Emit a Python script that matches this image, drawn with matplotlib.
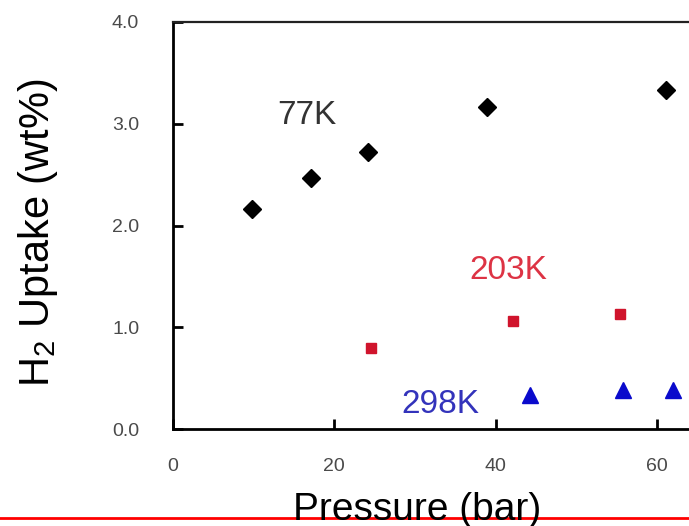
import matplotlib
matplotlib.use("Agg")
import matplotlib.pyplot as plt
from matplotlib.lines import Line2D

plt.rcParams['font.family'] = ['Liberation Sans', 'DejaVu Sans']
plt.rcParams['mathtext.default'] = 'regular'

# Data
p_77 = [9.8, 17.1, 24.2, 38.9, 61.1]
u_77 = [2.16, 2.47, 2.72, 3.16, 3.33]
p_203 = [24.6, 42.1, 55.4]
u_203 = [0.80, 1.06, 1.13]
p_298 = [44.2, 55.8, 62.0]
u_298 = [0.33, 0.38, 0.38]

x_ticks = [0, 20, 40, 60]
y_ticks = [0.0, 1.0, 2.0, 3.0, 4.0]
y_tick_labels = ["0.0", "1.0", "2.0", "3.0", "4.0"]

W, H = 689, 526
fig = plt.figure(figsize=(W / 100, H / 100), dpi=100)
ax = fig.add_axes([172.5 / W, 1 - 429 / H, 1 - 172.5 / W, (429 - 22) / H])
ax.set_xlim(0, (689 - 172.5) / 8.08)
ax.set_ylim(0, 4.0)

ax.plot(p_77, u_77, linestyle='none', marker='D', ms=9, color='black')
ax.plot(p_203, u_203, linestyle='none', marker='s', ms=7, color='#d0142c')
ax.plot(p_298, u_298, linestyle='none', marker='^', ms=11.5, color='#0a0acc')

ax.text(16.6, 3.08, '77K', fontsize=24, color='#333333', ha='center', va='center')
ax.text(41.5, 1.56, '203K', fontsize=24, color='#dd3344', ha='center', va='center')
ax.text(33.2, 0.24, '298K', fontsize=24, color='#3333bb', ha='center', va='center')

ax.set_xticks(x_ticks)
ax.set_xticklabels([str(v) for v in x_ticks])
ax.set_yticks(y_ticks)
ax.set_yticklabels(y_tick_labels)
ax.tick_params(axis='both', direction='in', length=7, width=2, color='black',
               labelsize=14, labelcolor='#4a4a4a')
ax.tick_params(axis='y', pad=24)
ax.tick_params(axis='x', pad=21)

ax.spines['right'].set_visible(False)
ax.spines['left'].set_linewidth(2)
ax.spines['bottom'].set_linewidth(2)
ax.spines['top'].set_linewidth(1.6)
ax.spines['top'].set_color('#222222')

fig.text(38 / W, 1 - 233 / H, 'H$_2$ Uptake (wt%)', fontsize=30, rotation=90,
         ha='center', va='center', color='black')

fig.add_artist(Line2D([0, 1], [1 - 518 / H, 1 - 518 / H], color='red', lw=2,
                      transform=fig.transFigure, zorder=1))
fig.text(417 / W, 1 - 520 / H, 'Pressure (bar)', fontsize=28, ha='center',
         va='baseline', color='black', zorder=2)

fig.savefig('out.png', dpi=100)
